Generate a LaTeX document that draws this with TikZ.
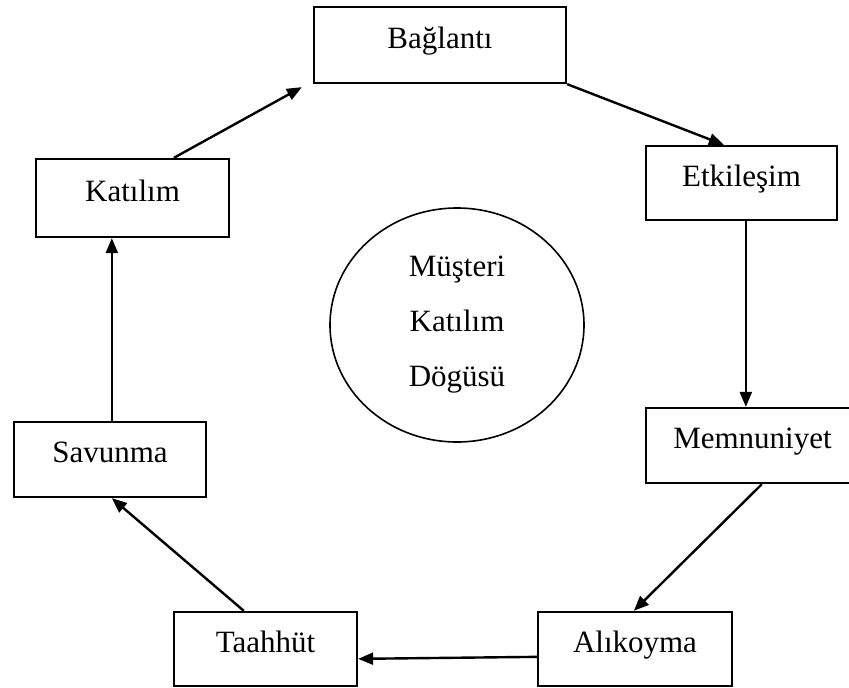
\documentclass[tikz,border=0pt]{standalone}
\usepackage{fontspec}
\setmainfont{Liberation Serif}
\usetikzlibrary{arrows.meta,shapes.geometric}
\begin{document}
\begin{tikzpicture}[x=1pt,y=-1pt,
  box/.style={draw, line width=2.3pt, fill=white, inner sep=0pt,
    font=\fontsize{31}{37}\selectfont, text height=21pt, text depth=15pt},
  conn/.style={line width=2.4pt, -{Triangle[length=15pt,width=12pt]}},
  cyclebox/.style={draw, ellipse, line width=1.6pt, inner sep=0pt, align=center,
    font=\fontsize{31}{55}\selectfont}
]
\useasboundingbox (0,0) rectangle (849,688);
\fill[white] (0,0) rectangle (849,688);

\node[box, minimum width=252pt, minimum height=76pt] (bag) at (440,45) {Bağlantı};
\node[box, minimum width=191pt, minimum height=74pt] (etk) at (741.5,183) {Etkileşim};
\node[box, minimum width=213pt, minimum height=75pt] (mem) at (752.5,445.5) {Memnuniyet};
\node[box, minimum width=194pt, minimum height=74pt] (alk) at (635,649) {Alıkoyma};
\node[box, minimum width=183pt, minimum height=74pt] (taa) at (265.5,649) {Taahhüt};
\node[box, minimum width=192pt, minimum height=75pt] (sav) at (110,459.5) {Savunma};
\node[box, minimum width=193pt, minimum height=78pt] (kat) at (132.5,198) {Katılım};

\node[cyclebox, minimum width=254pt, minimum height=234pt] (cyc) at (457,325) {Müşteri\\Katılım\\Dögüsü};

\draw[conn] ([xshift=139pt]kat.north west) -- ([xshift=-11pt,yshift=-3pt]bag.south west);
\draw[conn] (bag.south east) -- ([xshift=79pt]etk.north west);
\draw[conn] ([xshift=101pt]etk.south west) -- ([xshift=101pt]mem.north west);
\draw[conn] ([xshift=117pt]mem.south west) -- ([xshift=97pt]alk.north west);
\draw[conn] ([yshift=-46pt]alk.north west) -- ([yshift=-48pt]taa.north east);
\draw[conn] ([xshift=71pt]taa.north west) -- ([xshift=99pt]sav.south west);
\draw[conn] ([xshift=99pt]sav.north west) -- ([xshift=77pt]kat.south west);
\end{tikzpicture}
\end{document}
